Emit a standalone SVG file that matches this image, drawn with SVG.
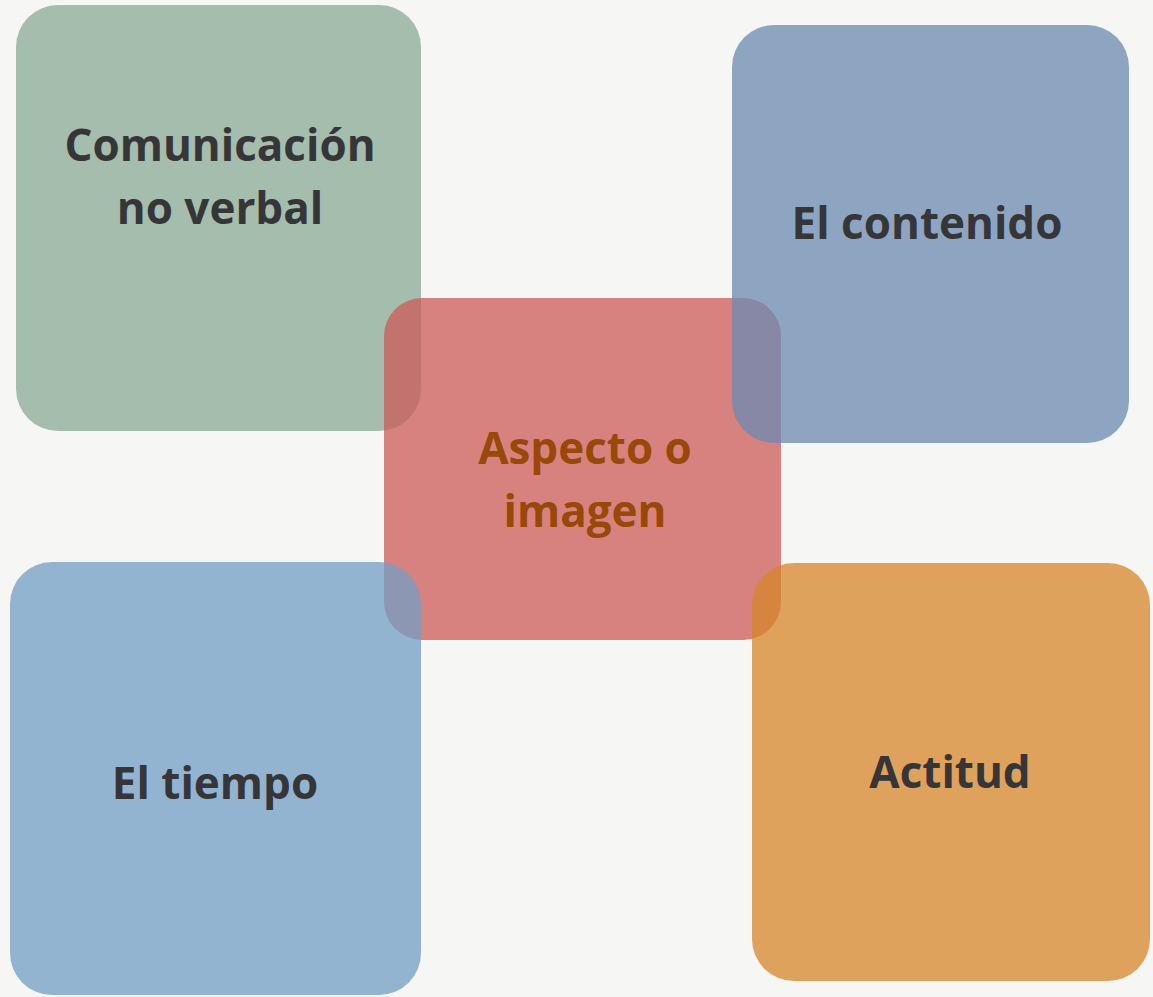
<svg xmlns="http://www.w3.org/2000/svg" width="1153" height="997" viewBox="0 0 1153 997">
<style>
.box{opacity:0.75}
.t{font-family:"Open Sans","DejaVu Sans",sans-serif;font-weight:bold;font-size:44px;text-anchor:middle;fill:#363638}
.c{fill:#984808}
</style>
<rect width="1153" height="997" fill="#f6f6f4"/>
<g id="n-comunicacion">
<rect class="box" x="16" y="5" width="405" height="426" rx="42" fill="#8aa995"/>
<text class="t" x="220" y="161">Comunicación</text>
<text class="t" x="220" y="224">no verbal</text>
</g>
<g id="n-aspecto">
<rect class="box" x="384" y="298" width="397" height="342" rx="38" fill="#cd5b58"/>
<text class="t c" x="585" y="464">Aspecto o</text>
<text class="t c" x="585" y="527">imagen</text>
</g>
<g id="n-contenido">
<rect class="box" x="732" y="25" width="397" height="418" rx="42" fill="#6b89b1"/>
<text class="t" x="927" y="239">El contenido</text>
</g>
<g id="n-tiempo">
<rect class="box" x="10" y="562" width="411" height="433" rx="42" fill="#719dc4"/>
<text class="t" x="215" y="799">El tiempo</text>
</g>
<g id="n-actitud">
<rect class="box" x="752" y="563" width="398" height="418" rx="42" fill="#d58529"/>
<text class="t" x="950" y="788">Actitud</text>
</g>
<g id="connectors"></g>
</svg>
